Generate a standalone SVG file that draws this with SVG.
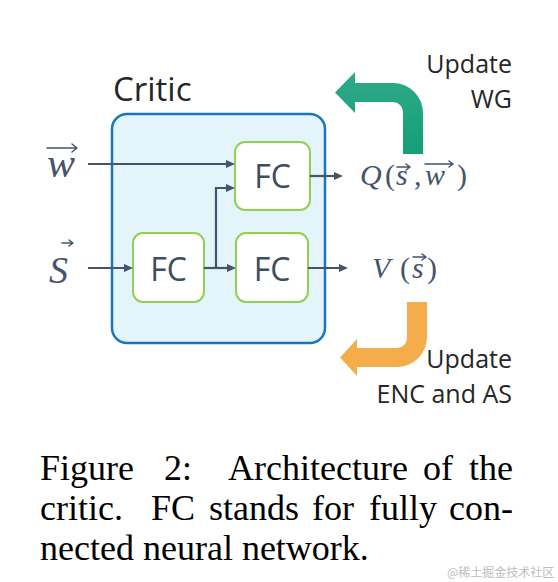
<svg xmlns="http://www.w3.org/2000/svg" width="558" height="582" viewBox="0 0 558 582">
<defs>
<style>
.ui{font-family:"Open Sans","Noto Sans","DejaVu Sans",sans-serif;fill:#262626}
.fc{font-family:"Open Sans","Noto Sans",sans-serif;font-size:32px;fill:#3f4d60;text-anchor:middle}
.math{font-family:"Liberation Serif","Times New Roman",serif;fill:#44546a}
.it{font-style:italic}
.cap{font-family:"Liberation Serif","Times New Roman",serif;font-size:36px;fill:#000}
.box{fill:#ffffff;stroke:#92d050;stroke-width:2}
.conn{fill:none;stroke:#44546a;stroke-width:2.2}
.acc{fill:none;stroke:#44546a;stroke-width:1.5;stroke-linecap:round;stroke-linejoin:round}
</style>
<marker id="ah" markerUnits="userSpaceOnUse" markerWidth="10" markerHeight="9" refX="3" refY="4" orient="auto">
<path d="M0,0 L9,4 L0,8 Z" fill="#44546a"/>
</marker>
<linearGradient id="gg" x1="0" y1="0" x2="0" y2="1">
<stop offset="0" stop-color="#30a988"/>
<stop offset="1" stop-color="#139f79"/>
</linearGradient>
</defs>
<rect width="558" height="582" fill="#ffffff"/>

<g id="critic">
<rect x="112" y="114" width="213" height="229" rx="15" fill="#e3f4fb" stroke="#1b75bc" stroke-width="2.5"/>
<text class="ui" x="113" y="101" font-size="33">Critic</text>
</g>

<g id="fc-top">
<rect class="box" x="235" y="142" width="75" height="68" rx="10"/>
<text class="fc" x="272.5" y="188">FC</text>
</g>
<g id="fc-left">
<rect class="box" x="133" y="233" width="71" height="69" rx="10"/>
<text class="fc" x="168.5" y="281">FC</text>
</g>
<g id="fc-right">
<rect class="box" x="236" y="233" width="72" height="69" rx="10"/>
<text class="fc" x="272" y="281">FC</text>
</g>

<g id="input-w">
<text class="math it" x="47" y="177" font-size="42">w</text>
<path class="acc" d="M47,148 H77 M72,144 L77,148 L72,152"/>
</g>
<g id="input-s">
<text class="math it" x="49" y="283" font-size="38">S</text>
<path class="acc" d="M62,243 H73 M69,240 L73,243 L69,246"/>
</g>

<g id="output-q">
<text class="math" font-size="30" y="185"><tspan class="it" x="360">Q</tspan><tspan x="385">(</tspan><tspan class="it" x="396">s</tspan><tspan x="414">,</tspan><tspan class="it" x="425">w</tspan><tspan x="457">)</tspan></text>
<path class="acc" d="M397,167 H410 M406,164 L410,167 L406,170"/>
<path class="acc" d="M425,164 H453 M449,161 L453,164 L449,167"/>
</g>
<g id="output-v">
<text class="math" font-size="30" y="278"><tspan class="it" x="372">V</tspan><tspan x="400">(</tspan><tspan class="it" x="412">s</tspan><tspan x="427">)</tspan></text>
<path class="acc" d="M413,257 H426 M422,254 L426,257 L422,260"/>
</g>

<g id="update-wg">
<path d="M355,83 H393 A30,30 0 0 1 423,113 V154 H403 V112 A10,10 0 0 0 393,102 H355 V113 L335,92.5 L355,72 Z" fill="url(#gg)"/>
<text class="ui" font-size="25" text-anchor="end"><tspan x="512" y="73">Update</tspan><tspan x="512" y="108">WG</tspan></text>
</g>
<g id="update-enc">
<path d="M407,302 H427 V337 A30,30 0 0 1 397,367 H357 V376 L340,357.5 L357,339 V348 H397 A10,10 0 0 0 407,338 Z" fill="#f5ad4b"/>
<text class="ui" font-size="25" text-anchor="end"><tspan x="512" y="368">Update</tspan><tspan x="512" y="403">ENC and AS</tspan></text>
</g>

<g id="connectors">
<path class="conn" d="M88,164 H229" marker-end="url(#ah)"/>
<path class="conn" d="M88,268 H127" marker-end="url(#ah)"/>
<path class="conn" d="M204,268 H230" marker-end="url(#ah)"/>
<path class="conn" d="M216,268 V188 H229" marker-end="url(#ah)"/>
<path class="conn" d="M310,176 H337" marker-end="url(#ah)"/>
<path class="conn" d="M308,268 H342" marker-end="url(#ah)"/>
</g>

<g id="caption">
<text class="cap" y="480"><tspan x="40">Figure</tspan><tspan x="164">2:</tspan><tspan x="228">Architecture</tspan><tspan x="423">of</tspan><tspan x="469">the</tspan></text>
<text class="cap" y="520"><tspan x="40">critic.</tspan><tspan x="151">FC</tspan><tspan x="209">stands</tspan><tspan x="312">for</tspan><tspan x="369">fully</tspan><tspan x="449">con-</tspan></text>
<text class="cap" x="40" y="560">nected neural network.</text>
</g>
<text x="447" y="577" font-family="'Noto Sans CJK SC',sans-serif" font-size="12" fill="#bdbdbd">@稀土掘金技术社区</text>
</svg>
